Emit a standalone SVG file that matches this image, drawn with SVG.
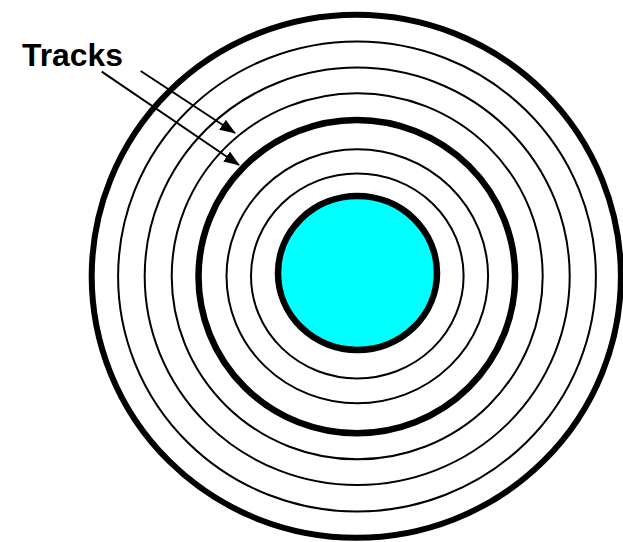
<svg xmlns="http://www.w3.org/2000/svg" width="623" height="542" viewBox="0 0 623 542">
  <style>
    .thin { fill: none; stroke: #000; stroke-width: 2; }
    .thick { fill: none; stroke: #000; stroke-width: 6.5; }
    .arrow { fill: none; stroke: #000; stroke-width: 2; marker-end: url(#ah); }
    .label { font-family: "Liberation Sans", Arial, sans-serif; font-weight: bold; font-size: 32px; fill: #000; }
  </style>
  <defs>
    <marker id="ah" viewBox="0 0 16 12" refX="15" refY="6" markerWidth="16" markerHeight="12" markerUnits="userSpaceOnUse" orient="auto">
      <path d="M0,0 L16,6 L0,12 Z" fill="#000"/>
    </marker>
  </defs>
  <rect width="623" height="542" fill="#fff"/>
  <g id="disk">
    <ellipse class="thick" cx="356.3" cy="276.3" rx="264.6" ry="261.5" style="stroke-width:6"/>
    <ellipse class="thin" cx="357" cy="276.5" rx="238.9" ry="235"/>
    <ellipse class="thin" cx="357.2" cy="276.3" rx="212.5" ry="208.7"/>
    <ellipse class="thin" cx="357.2" cy="276.3" rx="185.5" ry="183"/>
    <ellipse class="thick" cx="356.8" cy="276.6" rx="158.3" ry="156.7"/>
    <ellipse class="thin" cx="357.3" cy="276.3" rx="130.8" ry="127"/>
    <ellipse class="thin" cx="357.3" cy="275.9" rx="106.3" ry="102.5"/>
  </g>
  <g id="hub">
    <ellipse cx="357.5" cy="273" rx="79.5" ry="77" fill="#00ffff" stroke="#000" stroke-width="6.5"/>
  </g>
  <g id="label">
    <text class="label" x="22" y="66" textLength="101" lengthAdjust="spacingAndGlyphs">Tracks</text>
  </g>
  <g id="connectors">
    <line class="arrow" x1="140.7" y1="71" x2="235" y2="133"/>
    <line class="arrow" x1="101.7" y1="71.7" x2="239" y2="165"/>
  </g>
</svg>
